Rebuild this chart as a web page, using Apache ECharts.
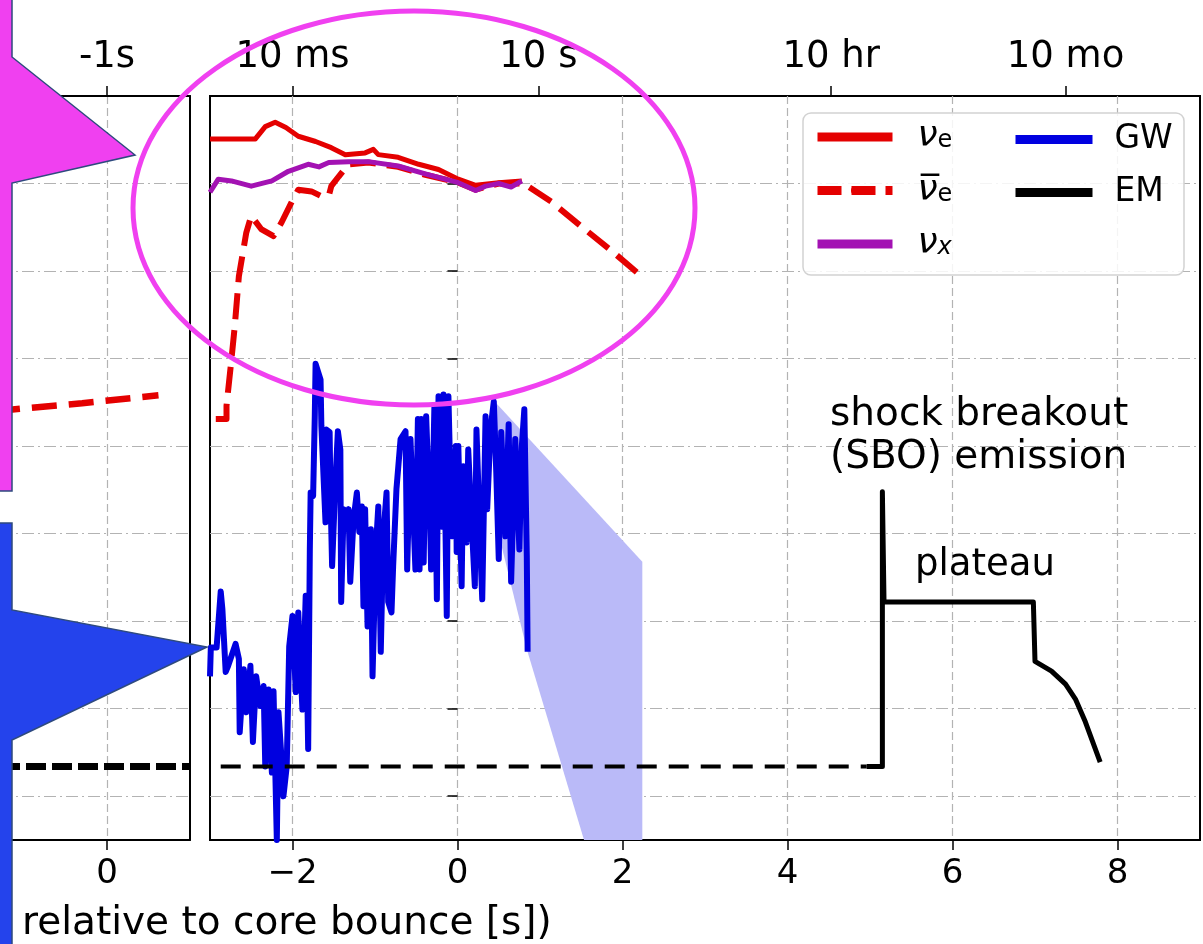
<!DOCTYPE html>
<html>
<head>
<meta charset="utf-8">
<script src="https://cdn.jsdelivr.net/npm/echarts@6/dist/echarts.min.js"></script>
<style>
  html, body { margin: 0; padding: 0; background: #fff; }
  #chart { width: 1203px; height: 944px; }
</style>
</head>
<body>
<div id="chart"></div>
<script>
// ---- signal tracks (x: time axis units, y: arbitrary amplitude units) ----
const nuE = [[-3.0,8.51],[-2.45,8.51],[-2.33,8.65],[-2.21,8.70],[-2.08,8.64],[-1.93,8.54],[-1.72,8.48],
  [-1.53,8.41],[-1.36,8.33],[-1.12,8.35],[-1.02,8.39],[-0.96,8.33],[-0.72,8.30],[-0.47,8.22],[-0.23,8.16],
  [0.01,8.05],[0.22,7.98],[0.50,8.01],[0.78,8.03]];

const nuX = [[-3.0,7.90],[-2.90,8.05],[-2.74,8.03],[-2.50,7.97],[-2.25,8.03],[-2.05,8.14],[-1.81,8.22],
  [-1.68,8.19],[-1.56,8.24],[-1.32,8.25],[-1.08,8.25],[-0.72,8.20],[-0.39,8.11],[0.01,8.01],[0.22,7.92],
  [0.34,7.97],[0.50,8.00],[0.65,7.96],[0.78,8.03]];

const nuBarE = [[-2.93,5.31],[-2.80,5.31],[-2.80,5.46],[-2.74,5.99],[-2.70,6.37],[-2.65,6.94],[-2.56,7.44],
  [-2.50,7.63],[-2.38,7.48],[-2.23,7.40],[-2.13,7.56],[-2.01,7.79],[-1.93,7.93],[-1.77,7.91],[-1.66,7.86],
  [-1.56,7.86],[-1.53,7.97],[-1.44,8.08],[-1.32,8.22],[-1.08,8.24],[-0.72,8.19],[-0.39,8.10],[0.01,8.01],
  [0.22,7.93],[0.50,8.00],[0.80,8.00],[1.14,7.79],[1.50,7.51],[1.87,7.23],[2.23,6.94]];

const nuBarEPre = [[-1.35,5.40],[-0.30,5.49],[0.62,5.58]];

const gw = [[-3.0,2.37],[-2.99,2.70],[-2.92,2.70],[-2.87,3.34],[-2.85,3.14],[-2.81,2.42],[-2.78,2.49],
  [-2.69,2.74],[-2.65,2.57],[-2.64,1.73],[-2.59,2.45],[-2.56,1.96],[-2.51,2.49],[-2.48,1.62],[-2.44,2.37],
  [-2.39,2.03],[-2.35,2.26],[-2.33,1.34],[-2.29,2.22],[-2.25,1.27],[-2.23,2.20],[-2.19,0.50],[-2.17,1.96],
  [-2.13,1.39],[-2.11,1.00],[-2.07,1.34],[-2.04,2.71],[-2.00,3.06],[-1.96,2.19],[-1.93,3.10],[-1.88,1.99],
  [-1.84,3.29],[-1.81,1.54],[-1.79,3.82],[-1.78,4.47],[-1.75,4.43],[-1.73,5.34],[-1.72,5.94],[-1.66,5.76],
  [-1.65,5.23],[-1.60,4.13],[-1.59,5.19],[-1.55,5.16],[-1.54,4.47],[-1.52,3.63],[-1.48,4.59],[-1.45,5.17],
  [-1.42,4.96],[-1.41,3.22],[-1.38,4.28],[-1.35,4.05],[-1.32,4.28],[-1.30,3.45],[-1.26,4.16],[-1.22,4.47],
  [-1.19,4.02],[-1.16,4.31],[-1.14,3.17],[-1.12,4.28],[-1.09,2.94],[-1.05,4.05],[-1.03,2.37],[-0.99,3.82],
  [-0.96,4.31],[-0.93,2.65],[-0.90,3.97],[-0.86,4.47],[-0.84,3.22],[-0.80,3.10],[-0.78,3.63],[-0.74,4.51],
  [-0.69,5.08],[-0.63,5.17],[-0.61,3.59],[-0.57,5.08],[-0.51,3.59],[-0.48,5.31],[-0.46,3.59],[-0.44,5.31],
  [-0.41,3.67],[-0.38,5.34],[-0.33,4.05],[-0.32,3.59],[-0.28,5.46],[-0.25,3.25],[-0.23,5.57],[-0.19,4.08],
  [-0.17,5.59],[-0.13,3.06],[-0.11,5.57],[-0.07,3.97],[-0.02,5.00],[-0.01,3.79],[0.01,5.00],[0.05,3.40],
  [0.07,4.77],[0.11,3.90],[0.13,4.96],[0.17,4.16],[0.21,3.40],[0.23,5.19],[0.28,3.74],[0.30,3.25],
  [0.34,5.34],[0.36,4.28],[0.40,5.19],[0.44,5.51],[0.47,4.70],[0.50,3.71],[0.53,5.16],[0.58,3.97],
  [0.62,5.25],[0.65,3.45],[0.70,5.08],[0.75,3.82],[0.78,5.00],[0.81,5.42],[0.84,3.74],[0.85,2.65]];

// uncertainty wedge after the simulated GW signal ends
const gwBandUpper = [[0.47,5.49],[2.24,3.68]];
const gwBandLower = [[2.24,-1.40],[1.53,0.51],[0.84,2.68],[0.50,3.99]];

const emSolid = [[4.96,1.34],[5.15,1.34],[5.15,4.48],[5.17,3.22],[6.98,3.22],[7.00,2.54],[7.20,2.43],
  [7.37,2.28],[7.49,2.11],[7.61,1.85],[7.79,1.39]];
const emDashed = [[-2.87,1.34],[4.96,1.34]];
const emPre = [[-1.29,1.34],[1.0,1.34]];

// ---- ticks ----
const bottomTicks = [-2, 0, 2, 4, 6, 8];
const topTickValues = [-2, 0.98, 4.53, 7.37];
const topTickLabels = ['10 ms', '10 s', '10 hr', '10 mo'];
const yTicks = [1, 2, 3, 4, 5, 6, 7, 8];
const preBottomTicks = [0];
const preTopTicks = [0];
const preTopLabels = ['-1s'];

const FONT = 'DejaVu Sans';
const GRID_COLOR = '#b3b3b3';
const H_DASH = [12, 4, 2, 4];
const V_DASH = [8, 4];
const C_NUE = '#e40000';
const C_NUX = '#a312b3';
const C_GW = '#0000e0';

const tickStyle = { color: '#000', width: 1.5 };
const spine = { show: true, onZero: false, lineStyle: { color: '#000', width: 2 } };
const minusFmt = v => (v < 0 ? '\u2212' + Math.abs(v) : String(v));

const legendText = {
  nu_e: '{nu|ν}{sub|e}',
  nubar_e: '{nu|ν\u0305}{sub|e}',
  nu_x: '{nu|ν}{subi|x}',
  GW: '{t|GW}',
  EM: '{t|EM}'
};
const legendRich = {
  nu: { fontFamily: FONT, fontStyle: 'italic', fontSize: 36, lineHeight: 40, padding: [0, 0, 0, 20], color: '#000' },
  sub: { fontFamily: FONT, fontSize: 24, lineHeight: 32, padding: [8, 0, 0, 0], color: '#000' },
  subi: { fontFamily: FONT, fontStyle: 'italic', fontSize: 24, lineHeight: 32, padding: [8, 0, 0, 0], color: '#000' },
  t: { fontFamily: FONT, fontSize: 33, lineHeight: 40, padding: [0, 0, 0, 17], color: '#000' }
};

const chart = echarts.init(document.getElementById('chart'), null, { renderer: 'canvas' });

const option = {
  animation: false,
  backgroundColor: '#fff',
  grid: [
    { left: 210, top: 96, width: 990, height: 744, show: true, borderColor: '#000', borderWidth: 2, backgroundColor: 'transparent' },
    { left: 0, top: 96, width: 190, height: 744, show: false }
  ],
  xAxis: [
    { // main panel, bottom
      gridIndex: 0, type: 'value', position: 'bottom', min: -3, max: 9, splitNumber: 6,
      axisLine: { show: false },
      axisTick: { show: true, customValues: bottomTicks, length: 10, lineStyle: tickStyle },
      axisLabel: { customValues: bottomTicks, formatter: minusFmt, fontFamily: FONT, fontSize: 34, color: '#000', margin: 17 },
      splitLine: { show: true, lineStyle: { color: GRID_COLOR, type: V_DASH, width: 1.2 } }
    },
    { // main panel, top: time after bounce
      gridIndex: 0, type: 'value', position: 'top', min: -3, max: 9,
      axisLine: { show: false },
      axisTick: { show: true, customValues: topTickValues, length: 10, lineStyle: tickStyle },
      axisLabel: {
        customValues: topTickValues,
        formatter: v => topTickLabels[topTickValues.indexOf(v)] || '',
        fontFamily: FONT, fontSize: 37, color: '#000', margin: 20
      },
      splitLine: { show: false }
    },
    { // pre-bounce panel, bottom
      gridIndex: 1, type: 'value', position: 'bottom', min: -1.29, max: 1,
      axisLine: spine,
      axisTick: { show: true, customValues: preBottomTicks, length: 10, lineStyle: tickStyle },
      axisLabel: { customValues: preBottomTicks, formatter: minusFmt, fontFamily: FONT, fontSize: 34, color: '#000', margin: 17 },
      splitLine: { show: true, lineStyle: { color: GRID_COLOR, type: V_DASH, width: 1.2 } }
    },
    { // pre-bounce panel, top
      gridIndex: 1, type: 'value', position: 'top', min: -1.29, max: 1,
      axisLine: spine,
      axisTick: { show: true, customValues: preTopTicks, length: 10, lineStyle: tickStyle },
      axisLabel: {
        customValues: preTopTicks,
        formatter: v => preTopLabels[preTopTicks.indexOf(v)] || '',
        fontFamily: FONT, fontSize: 37, color: '#000', margin: 20
      },
      splitLine: { show: false }
    }
  ],
  yAxis: [
    {
      gridIndex: 0, type: 'value', min: 0.5, max: 9, splitNumber: 8,
      axisLine: { show: false },
      axisTick: { show: true, customValues: yTicks, length: 10, lineStyle: tickStyle },
      axisLabel: { show: false },
      splitLine: { show: true, lineStyle: { color: GRID_COLOR, type: H_DASH, width: 1.2 } }
    },
    {
      gridIndex: 1, type: 'value', position: 'right', min: 0.5, max: 9, splitNumber: 8,
      axisLine: spine,
      axisTick: { show: false, customValues: yTicks },
      axisLabel: { show: false },
      splitLine: { show: true, lineStyle: { color: GRID_COLOR, type: H_DASH, width: 1.2 } }
    }
  ],
  legend: [
    {
      data: [
        { name: 'nu_e', lineStyle: { width: 9, type: 'solid', color: C_NUE } },
        { name: 'nubar_e', lineStyle: { width: 9, type: [24, 10], color: C_NUE } },
        { name: 'nu_x', lineStyle: { width: 9, type: 'solid', color: C_NUX } }
      ],
      orient: 'vertical', left: 813, top: 119, itemWidth: 75, itemHeight: 10, itemGap: 17.5,
      padding: 0, selectedMode: false, z: 6,
      formatter: n => legendText[n], textStyle: { rich: legendRich }
    },
    {
      data: [
        { name: 'GW', lineStyle: { width: 9, type: 'solid', color: C_GW } },
        { name: 'EM', lineStyle: { width: 9, type: 'solid', color: '#000' } }
      ],
      orient: 'vertical', left: 1011, top: 123, itemWidth: 77, itemHeight: 10, itemGap: 20,
      padding: 0, selectedMode: false, z: 6,
      formatter: n => legendText[n], textStyle: { rich: legendRich }
    }
  ],
  series: [
    { name: 'nu_e', type: 'line', data: nuE, xAxisIndex: 0, yAxisIndex: 0, symbol: 'none',
      lineStyle: { color: C_NUE, width: 5, join: 'round' }, itemStyle: { color: C_NUE } },
    { name: 'nubar_e', type: 'line', data: nuBarE, xAxisIndex: 0, yAxisIndex: 0, symbol: 'none',
      lineStyle: { color: C_NUE, width: 6, type: [26, 11], join: 'round' }, itemStyle: { color: C_NUE } },
    { name: 'nubar_e', type: 'line', data: nuBarEPre, xAxisIndex: 2, yAxisIndex: 1, symbol: 'none',
      lineStyle: { color: C_NUE, width: 6.5, type: [25, 12] }, itemStyle: { color: C_NUE } },
    { name: 'nu_x', type: 'line', data: nuX, xAxisIndex: 0, yAxisIndex: 0, symbol: 'none',
      lineStyle: { color: C_NUX, width: 5, join: 'round' }, itemStyle: { color: C_NUX } },
    { name: 'gw_band', type: 'custom', xAxisIndex: 0, yAxisIndex: 0, clip: true,
      data: [gwBandUpper[0]],
      renderItem: (params, api) => {
        const pts = gwBandUpper.concat(gwBandLower).map(p => api.coord(p));
        return { type: 'polygon', shape: { points: pts }, style: { fill: '#babaf8', stroke: null } };
      } },
    { name: 'GW', type: 'line', data: gw, xAxisIndex: 0, yAxisIndex: 0, symbol: 'none',
      lineStyle: { color: C_GW, width: 6, join: 'round' }, itemStyle: { color: C_GW } },
    { name: 'EM', type: 'line', data: emSolid, xAxisIndex: 0, yAxisIndex: 0, symbol: 'none',
      lineStyle: { color: '#000', width: 5, join: 'round' }, itemStyle: { color: '#000' } },
    { name: 'EM', type: 'line', data: emDashed, xAxisIndex: 0, yAxisIndex: 0, symbol: 'none',
      lineStyle: { color: '#000', width: 4, type: [20, 12] }, itemStyle: { color: '#000' } },
    { name: 'EM', type: 'line', data: emPre, xAxisIndex: 2, yAxisIndex: 1, symbol: 'none',
      lineStyle: { color: '#000', width: 7, type: [20, 6] }, itemStyle: { color: '#000' } }
  ],
  graphic: [
    // legend frame
    { type: 'rect', z: 5, shape: { x: 803, y: 113, width: 381, height: 162, r: 8 },
      style: { fill: 'rgba(255,255,255,0.85)', stroke: '#d2d2d2', lineWidth: 1.5 } },
    // annotations
    { type: 'text', z: 5, left: 830, top: 395, style: { text: 'shock breakout', font: '39px "DejaVu Sans"', fill: '#000' } },
    { type: 'text', z: 5, left: 830, top: 438, style: { text: '(SBO) emission', font: '39px "DejaVu Sans"', fill: '#000' } },
    { type: 'text', z: 5, left: 915, top: 547, style: { text: 'plateau', font: '37px "DejaVu Sans"', fill: '#000' } },
    // axis title
    { type: 'text', z: 5, left: 22, top: 904, style: { text: 'relative to core bounce [s])', font: '39px "DejaVu Sans"', fill: '#000' } },
    // highlight shapes
    { type: 'ellipse', z: 20, shape: { cx: 414, cy: 208, rx: 281, ry: 197 },
      style: { fill: 'none', stroke: '#f040f0', lineWidth: 5 } },
    { type: 'polygon', z: 20, shape: { points: [[-5,-5],[12,-5],[12,57],[135,155],[12,183],[12,491],[-5,491]] },
      style: { fill: '#f040f0', stroke: '#2e4a7e', lineWidth: 1.5 } },
    { type: 'polygon', z: 20, shape: { points: [[-5,523],[12,523],[12,610],[207,647],[12,740],[12,950],[-5,950]] },
      style: { fill: '#2443ec', stroke: '#2e4a7e', lineWidth: 1.5 } }
  ]
};

chart.setOption(option);
</script>
</body>
</html>
